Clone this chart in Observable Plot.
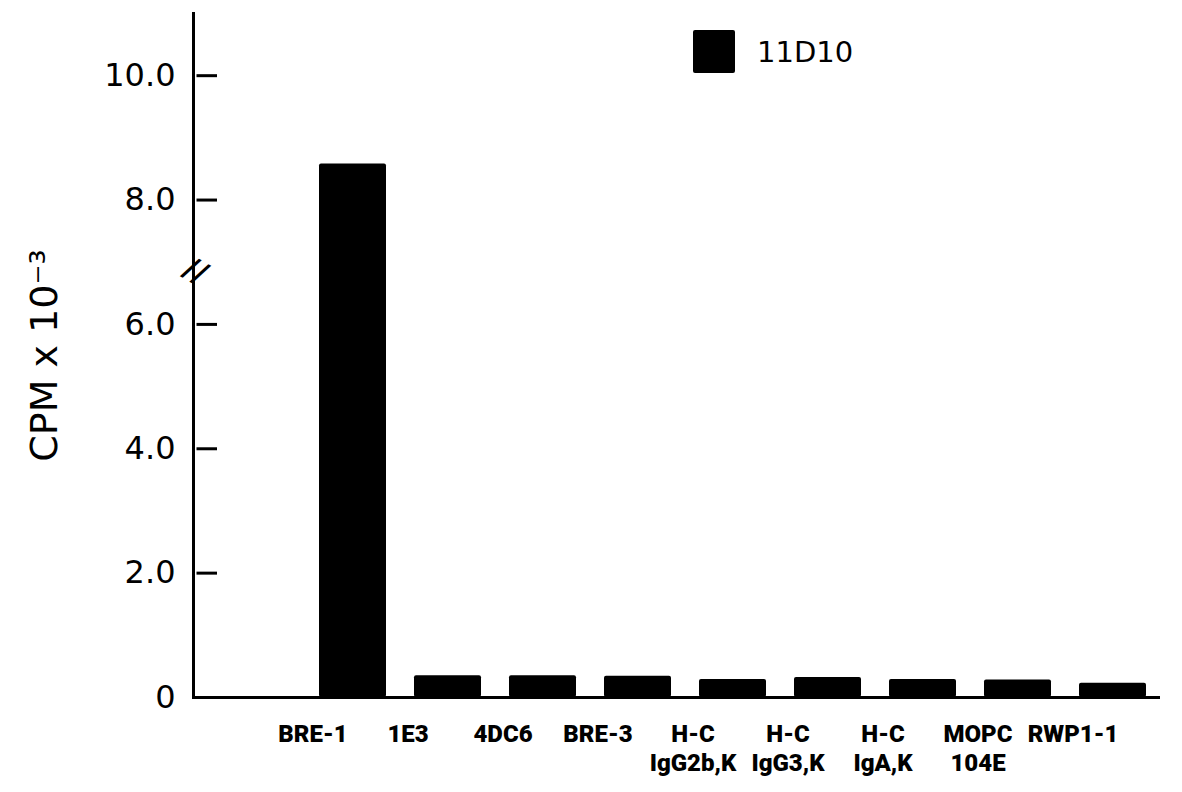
<!DOCTYPE html>
<html><head><meta charset="utf-8">
<script src="https://cdn.jsdelivr.net/npm/d3@7"></script>
<script src="https://cdn.jsdelivr.net/npm/@observablehq/plot@0.6"></script>
<style>
body{margin:0;background:#fff;}
#wrap{position:relative;width:1182px;height:792px;}
#legend{position:absolute;left:693px;top:30px;display:flex;align-items:center;font-family:'DejaVu Sans',sans-serif;font-size:29px;color:#000;}
.sw{width:42px;height:43px;background:#000;border-radius:2px;margin-right:22px;}
</style></head><body><div id="wrap"><div id="legend"><div class="sw"></div><span>11D10</span></div></div>
<script>
// Categories (first slot on the axis is intentionally empty)
const emptySlot = "";
const categories = ["BRE-1", "1E3", "4DC6", "BRE-3", "H-C\nIgG2b,K", "H-C\nIgG3,K", "H-C\nIgA,K", "MOPC\n104E", "RWP1-1"];
// CPM x 10^-3 for 11D10
const cpm = [8.58, 0.35, 0.35, 0.34, 0.29, 0.32, 0.29, 0.28, 0.23];
const yTicks = [0, 2, 4, 6, 8, 10];
const yTickLabels = ["0", "2.0", "4.0", "6.0", "8.0", "10.0"];
const yTitle = "CPM x 10\u207B\u00B3";
const seriesName = "11D10";
const axisBreak = [6.86];

const data = categories.map((c, i) => ({cat: c, cpm: cpm[i]}));
const W = 1182, H = 792, mL = 193, mR = 18, mT = 13, mB = 95;

const chart = Plot.plot({
  width: W, height: H,
  marginLeft: mL, marginRight: mR, marginTop: mT, marginBottom: mB,
  style: {background: "#fff", color: "#000"},
  x: {domain: [emptySlot, ...categories], range: [206, 1164], paddingInner: 0.3, paddingOuter: 0.15},
  y: {domain: [0, 11]},
  marks: [
    Plot.barY(data, {x: "cat", y: "cpm", fill: "#000", rx: 2}),
    Plot.ruleY([0], {strokeWidth: 3, insetRight: 4}),
    Plot.tickY(yTicks.filter(d => d > 0), {y: d => d, x: () => emptySlot, strokeWidth: 3, insetLeft: -27.5, insetRight: 74}),
    Plot.frame({anchor: "left", strokeWidth: 3}),
    Plot.text(axisBreak, {y: d => d, frameAnchor: "left", textAnchor: "middle", dx: 2, text: () => "//", fontSize: 30, fontWeight: "bold", rotate: 30, fontFamily: "DejaVu Sans"}),
    Plot.axisY(yTicks, {tickSize: 0, tickPadding: 18, tickFormat: d => yTickLabels[yTicks.indexOf(d)], fontSize: 32, fontFamily: "DejaVu Sans", label: null, stroke: "#000", strokeWidth: 0.7}),
    Plot.axisX({tickSize: 0, tickPadding: 24, fontSize: 24, fontWeight: 900, lineHeight: 1.2, dx: -40, fontFamily: "Roboto, sans-serif", label: null}),
    Plot.text([yTitle], {text: d => d, frameAnchor: "left", textAnchor: "middle", dx: -149, rotate: -90, fontSize: 38, fontFamily: "DejaVu Sans"})
  ]
});
document.getElementById("wrap").prepend(chart);
document.querySelector("#legend span").textContent = seriesName;
</script></body></html>
